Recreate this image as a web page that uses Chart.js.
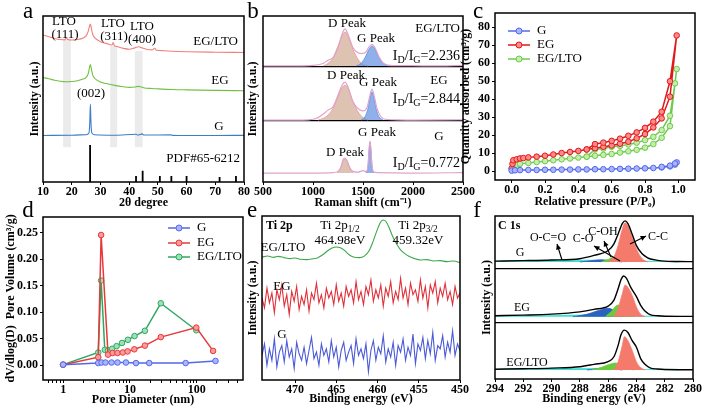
<!DOCTYPE html>
<html lang="en">
<head>
<meta charset="UTF-8">
<title>EG / LTO characterisation</title>
<script src="https://cdn.jsdelivr.net/npm/chart.js"></script>
<style>
  body { margin: 0; background: #fff; }
  #wrap { position: relative; width: 704px; height: 407px; }
  #wrap canvas { position: absolute; left: 0; top: 0; }
</style>
</head>
<body>
<div id="wrap">
  <canvas id="pa" width="704" height="407"></canvas>
  <canvas id="pb" width="704" height="407"></canvas>
  <canvas id="pc" width="704" height="407"></canvas>
  <canvas id="pd" width="704" height="407"></canvas>
  <canvas id="pe" width="704" height="407"></canvas>
  <canvas id="pf" width="704" height="407"></canvas>
</div>
<script>
// ---------------- (a) XRD ----------------
const xrdTicks = [10, 20, 30, 40, 50, 60, 70, 80];
const xrdLTO_x = [10, 12, 14, 16, 17.5, 18.2, 18.6, 20, 22, 24, 25, 25.8, 26.2, 26.5, 26.8, 27.3, 28, 30, 32, 34, 34.4, 34.8, 36, 38, 40, 42, 43.3, 44.5, 46, 48, 48.9, 49.5, 52, 55, 60, 70, 80];
const xrdLTO_y = [10.6, 9.5, 8.5, 7.8, 7.6, 8.8, 7.8, 7.5, 7.8, 8.8, 10, 13, 16, 17.2, 15, 11, 9, 6.5, 5.5, 4.5, 6, 4.3, 3.5, 2.5, 2, 2.8, 3.5, 2.8, 2, 1.6, 2.6, 1.4, 1.1, 0.8, 0.5, 0.2, 0];
const xrdEG_x = [10, 12, 14, 16, 18, 20, 22, 24, 25, 25.8, 26.2, 26.5, 26.8, 27.3, 28, 30, 32, 35, 38, 40, 42, 43, 44, 45, 48, 50, 55, 60, 70, 80];
const xrdEG_y = [8, 7.2, 6.3, 5.7, 5.4, 5.5, 6, 7, 8, 10.5, 14, 15.7, 13.5, 9.5, 7.5, 5.2, 4.3, 3.2, 2.4, 2, 2.2, 2.6, 2.4, 1.8, 1.3, 1.1, 0.7, 0.5, 0.2, 0];
const xrdG_x = [10, 20, 25, 26, 26.3, 26.5, 26.7, 27, 28, 35, 42.4, 43, 44.5, 45, 54.6, 55, 60, 70, 80];
const xrdG_y = [0, 0.2, 0.5, 1.5, 8, 19, 8, 1.5, 0.5, 0.2, 0.8, 0.3, 1, 0.3, 0.4, 0.1, 0, 0, 0.1];
const pdfPos = [26.4, 42.4, 44.7, 50.7, 54.7, 60.0, 71.5, 77.2];
const pdfHeight = [22.3, 3.6, 6.8, 3.6, 3.6, 3.6, 3.0, 3.6];
const ltoBands = [[17, 19.7, 86], [33.4, 35.8, 82], [42, 44.7, 79]];

// ---------------- (b) Raman ----------------
const ramanTicks = [500, 1000, 1500, 2000, 2500];
const ramLTO_x = [500, 800, 1000, 1100, 1150, 1200, 1250, 1290, 1320, 1350, 1400, 1450, 1490, 1530, 1560, 1590, 1620, 1660, 1700, 1750, 1800, 2000, 2200, 2500];
const ramLTO_y = [0, 0, 0.3, 1.5, 3.5, 5, 11, 19, 22.3, 19, 11, 8, 7.5, 8.5, 11.5, 13, 11, 5.5, 2, 0.5, 0.2, 0.2, 0, 0.3];
const ramLTO_Dx = [1100, 1150, 1200, 1250, 1290, 1320, 1350, 1400, 1450, 1500, 1550];
const ramLTO_Dy = [0, 1.5, 5, 12, 18, 20.5, 18, 10, 4, 1, 0];
const ramLTO_Gx = [1430, 1480, 1520, 1560, 1590, 1620, 1660, 1700, 1750];
const ramLTO_Gy = [0, 1.5, 5, 10, 12, 10, 5, 1.5, 0];
const ramEG_x = [500, 900, 1000, 1050, 1100, 1150, 1200, 1250, 1290, 1320, 1350, 1400, 1450, 1500, 1540, 1570, 1590, 1610, 1640, 1680, 1720, 1800, 2000, 2500];
const ramEG_y = [0, 0, 0.5, 1.5, 3.5, 6, 8, 15, 21, 22.9, 20, 11, 7, 5.5, 7.5, 15, 18.7, 15, 7, 2, 0.5, 0.2, 0, 0.2];
const ramEG_Dx = [1050, 1100, 1150, 1200, 1250, 1290, 1320, 1350, 1400, 1450, 1500, 1550];
const ramEG_Dy = [0, 1, 3, 7, 14, 19.5, 21, 19, 11, 5, 1.5, 0];
const ramEG_Gx = [1480, 1520, 1550, 1570, 1590, 1610, 1630, 1660, 1700];
const ramEG_Gy = [0, 2, 7, 13, 17, 13, 7, 2, 0];
const ramG_x = [500, 1000, 1200, 1250, 1280, 1300, 1320, 1340, 1370, 1400, 1450, 1500, 1530, 1550, 1560, 1570, 1580, 1590, 1610, 1650, 2000, 2500];
const ramG_y = [0, 0, 0.3, 1, 3.5, 8, 9, 7.5, 3, 1, 0.5, 1.5, 0.8, 4.5, 13.5, 19.3, 13.5, 4.5, 0.5, 0.3, 0, 0.3];
const ramG_Dx = [1240, 1270, 1300, 1320, 1340, 1370, 1400];
const ramG_Dy = [0, 2.5, 7, 8.5, 7, 2.5, 0];
const ramG_Gx = [1530, 1550, 1560, 1570, 1580, 1590, 1610];
const ramG_Gy = [0, 4, 13, 18.5, 13, 4, 0];
const ramanRatio = ['2.236', '2.844', '0.772'];

// ---------------- (c) N2 isotherms ----------------
const isoTicksX = [0, 0.2, 0.4, 0.6, 0.8, 1.0];
const isoTicksY = [0, 10, 20, 30, 40, 50, 60, 70, 80];
const isoG_x = [0.0, 0.02, 0.05, 0.1, 0.15, 0.2, 0.25, 0.3, 0.35, 0.4, 0.45, 0.5, 0.55, 0.6, 0.65, 0.7, 0.75, 0.8, 0.85, 0.9, 0.95, 0.98, 0.99, 0.98, 0.95, 0.9];
const isoG_y = [0.2, 0.4, 0.5, 0.6, 0.6, 0.7, 0.7, 0.8, 0.8, 0.9, 0.9, 1.0, 1.0, 1.1, 1.2, 1.3, 1.4, 1.5, 1.7, 2.0, 2.6, 3.6, 4.8, 4.2, 3.0, 2.3];
const isoEG_x = [0.0, 0.005, 0.01, 0.03, 0.05, 0.07, 0.1, 0.15, 0.2, 0.25, 0.3, 0.35, 0.4, 0.45, 0.5, 0.55, 0.6, 0.65, 0.7, 0.75, 0.8, 0.85, 0.9, 0.95, 0.99,
                 0.95, 0.9, 0.85, 0.8, 0.75, 0.7, 0.65, 0.6, 0.55, 0.5, 0.45];
const isoEG_y = [1.5, 4, 6, 6.5, 7, 7.2, 7.6, 8, 8.5, 9.2, 10, 10.6, 11.2, 12, 12.7, 13.5, 14.2, 15.2, 16.3, 18.2, 20.6, 24.3, 29.3, 41.4, 75.5,
                 50, 33, 27.5, 24, 21.5, 19.6, 18, 16.8, 15.8, 15, 12];
const isoLTO_x = [0.0, 0.01, 0.03, 0.05, 0.1, 0.15, 0.2, 0.25, 0.3, 0.35, 0.4, 0.45, 0.5, 0.55, 0.6, 0.65, 0.7, 0.75, 0.8, 0.85, 0.9, 0.95, 0.99,
                  0.98, 0.95, 0.9, 0.85, 0.8, 0.75, 0.7, 0.65, 0.6, 0.55, 0.5, 0.45];
const isoLTO_y = [1, 3.2, 3.6, 4, 4.5, 5, 5.5, 6, 6.5, 7, 7.5, 8, 8.5, 9, 9.5, 10.3, 11, 11.8, 13, 15, 18.5, 25, 56.8,
                  48.8, 30.8, 22.8, 19, 17.2, 15.8, 14.8, 14, 13.5, 12.5, 12, 8];

// ---------------- (d) pore size distribution ----------------
const poreTicksX = [0.6, 0.7, 0.8, 0.9, 1, 2, 3, 4, 5, 6, 7, 8, 9, 10, 20, 30, 40, 50, 60, 70, 80, 90, 100, 200, 300, 400];
const poreLabels = [1, 10, 100];
const poreTicksY = [0, 0.05, 0.1, 0.15, 0.2, 0.25];
const poreG_x = [1, 3.35, 3.75, 4.3, 5.3, 6.5, 8.7, 12.3, 19.4, 68, 190];
const poreG_y = [0.001, 0.004, 0.005, 0.005, 0.005, 0.005, 0.005, 0.004, 0.004, 0.004, 0.008];
const poreEG_x = [1, 3.35, 3.7, 4.7, 5.5, 6.5, 7.8, 9.2, 11.6, 16.7, 28.9, 98, 175];
const poreEG_y = [0.001, 0.015, 0.246, 0.02, 0.023, 0.023, 0.024, 0.026, 0.03, 0.037, 0.053, 0.071, 0.027];
const poreLTO_x = [1, 3.35, 3.7, 4.2, 4.7, 5.4, 6.3, 7.6, 9.3, 11.7, 16.7, 28.9, 98];
const poreLTO_y = [0.001, 0.024, 0.16, 0.029, 0.028, 0.031, 0.036, 0.042, 0.048, 0.055, 0.065, 0.117, 0.066];

// ---------------- (e) XPS Ti 2p ----------------
const tiTicks = [470, 465, 460, 455, 450];
const tiLTO_x = [474, 473.3, 472.6, 472, 471.3, 470.6, 470, 469.3, 468.6, 468, 467.3, 466.6, 466, 465.5, 465, 464.5, 464, 463.4, 462.8, 462.2, 461.6, 461, 460.5, 460, 459.6, 459.3, 459, 458.6, 458.2, 457.8, 457.3, 456.8, 456.2, 455.5, 454.8, 454, 453.2, 452.4, 451.6, 450.8, 450];
const tiLTO_y = [75, 75.6, 74.8, 75.4, 74.6, 74, 74.4, 73.6, 73.4, 73.8, 74.4, 76.5, 79, 80.5, 81.1, 80.6, 79, 76.2, 74.8, 74.6, 75.5, 79, 85, 92, 96.5, 97.6, 96.8, 93, 88, 84, 80, 77.5, 75.5, 74, 73.2, 73.4, 72.6, 72.8, 72.2, 72.6, 71.6];
const tiEG_y = [50, 44, 56, 47, 53, 41, 55, 49, 58, 45, 52, 40, 54, 48, 57, 43, 51, 46, 55, 42, 53, 49, 59, 47, 52, 44, 56, 50, 54, 46, 58, 48, 53, 45, 57, 51, 55, 47, 60, 49, 54, 46, 57, 52, 61, 48, 55, 50, 58, 45, 56, 51, 60, 47, 54, 49, 62, 50, 56, 46, 59, 52, 55, 48, 61, 50, 57, 44, 58, 53, 60, 47, 56, 51, 59, 49, 54, 46, 57, 50, 53];
const tiG_y = [15, 22, 9, 19, 12, 25, 8, 17, 21, 11, 24, 14, 19, 7, 23, 16, 12, 20, 10, 18, 26, 13, 17, 9, 22, 15, 19, 11, 24, 14, 20, 8, 18, 23, 12, 17, 21, 10, 25, 15, 19, 13, 22, 5, 18, 24, 12, 20, 16, 27, 11, 19, 14, 23, 9, 21, 17, 25, 12, 20, 15, 28, 10, 22, 18, 26, 13, 24, 16, 29, 12, 21, 19, 27, 14, 23, 17, 30, 15, 22, 18];

// ---------------- (f) XPS C 1s ----------------
const cTicks = [294, 292, 290, 288, 286, 284, 282, 280];
const c1s = [
  { // G
    env_x: [294, 292, 290, 288, 287, 286, 285.6, 285.3, 285, 284.8, 284.6, 284.3, 284, 283.6, 283.2, 283, 282.5, 282, 281, 280],
    env_y: [0.5, 0.8, 1.2, 2, 4, 7, 11, 17, 23.5, 25.2, 23.5, 17, 10, 5, 2.5, 1.8, 1, 0.5, 0.3, 0.2],
    cc_x: [286, 285.6, 285.3, 285.0, 284.8, 284.6, 284.3, 284.0, 283.6, 283.2],
    cc_y: [0, 3, 10, 20, 24, 22, 15, 8, 2, 0],
    coh_x: [286.5, 286, 285.6, 285.2, 284.8], coh_y: [0, 1.5, 3, 1.5, 0],
    co_x: [288, 287.2, 286.5, 285.8, 285], co_y: [0, 0.8, 1.3, 0.8, 0],
    oco_x: [294, 292, 290, 288, 286, 284, 282, 281], oco_y: [0.3, 0.6, 0.9, 1.1, 1.0, 0.6, 0.2, 0]
  },
  { // EG
    env_x: [294, 292, 290, 288, 287, 286, 285.6, 285.3, 285.1, 284.9, 284.7, 284.4, 284, 283.7, 283.4, 283, 282.5, 282, 280],
    env_y: [0.6, 1, 1.6, 3, 4.5, 6.5, 10, 17, 22.5, 25, 23.5, 18, 12.3, 7, 3.5, 1.2, 0.6, 0.3, 0.2],
    cc_x: [285.6, 285.3, 285.0, 284.8, 284.6, 284.3, 284.0, 283.7, 283.4],
    cc_y: [0, 5, 14, 19.4, 18, 13, 6, 1.5, 0],
    coh_x: [286.2, 285.8, 285.3, 284.9, 284.5, 284.2], coh_y: [0, 3, 7.2, 4, 1, 0],
    co_x: [288.5, 287.5, 286.8, 286, 285.4, 284.8], co_y: [0, 1.5, 3.5, 5.2, 3, 0],
    oco_x: [294, 292, 290, 288, 286, 284, 282, 281], oco_y: [0.3, 0.5, 0.8, 1.0, 1.0, 0.5, 0.2, 0]
  },
  { // EG/LTO
    env_x: [294, 292, 290, 288, 287, 286, 285.6, 285.3, 285.1, 284.85, 284.6, 284.3, 284, 283.7, 283.4, 283, 282.5, 282, 280],
    env_y: [0.5, 0.8, 1.2, 2, 3.5, 5.2, 8, 15, 21.5, 24.5, 23, 18, 14, 7, 3.5, 1.2, 0.6, 0.3, 0.2],
    cc_x: [285.6, 285.3, 285.0, 284.85, 284.6, 284.3, 284.0, 283.7, 283.4],
    cc_y: [0, 5, 15, 20.4, 18, 12, 5, 1.5, 0],
    coh_x: [287.2, 286.5, 285.9, 285.5, 285, 284.6, 284.2], coh_y: [0, 1.5, 3.5, 4.3, 3, 1.2, 0],
    co_x: [287.5, 286.8, 286.2, 285.6, 285], co_y: [0, 0.8, 1.4, 0.8, 0],
    oco_x: [294, 292, 290, 288, 286, 284, 282, 281], oco_y: [0.3, 0.5, 0.8, 0.9, 0.8, 0.4, 0.2, 0]
  }
];

// ---------------- helpers ----------------
const W = 704, H = 407;
const SERIF = '"Liberation Serif", "Times New Roman", serif';
const TICK_FONT = { family: SERIF, size: 12, weight: 'bold' };
const TITLE_FONT = { family: SERIF, size: 12, weight: 'bold' };

const pts = (xs, ys, off = 0) => xs.map((x, i) => ({ x: x, y: ys[i] + off }));

function drawText(ctx, t) {
  const size = t.size || 13, weight = t.bold ? 'bold ' : '';
  const parts = t.text.split(/(_\{[^}]*\})/).filter(Boolean)
    .map(p => p.startsWith('_{') ? { s: p.slice(2, -1), sub: true } : { s: p, sub: false });
  let w = 0;
  parts.forEach(p => {
    ctx.font = weight + (p.sub ? size * 0.72 : size) + 'px ' + SERIF;
    p.w = ctx.measureText(p.s).width; w += p.w;
  });
  let x = t.align === 'right' ? t.x - w : t.align === 'left' ? t.x : t.x - w / 2;
  ctx.fillStyle = t.color || '#000';
  ctx.textAlign = 'left';
  ctx.textBaseline = t.base ? 'alphabetic' : 'middle';
  parts.forEach(p => {
    ctx.font = weight + (p.sub ? size * 0.72 : size) + 'px ' + SERIF;
    ctx.fillText(p.s, x, t.y + (p.sub ? size * 0.3 : 0));
    x += p.w;
  });
}

function drawArrow(ctx, a) {
  const [x0, y0, x1, y1] = a;
  ctx.strokeStyle = '#000'; ctx.fillStyle = '#000'; ctx.lineWidth = 1.1;
  ctx.beginPath(); ctx.moveTo(x0, y0); ctx.lineTo(x1, y1); ctx.stroke();
  const ang = Math.atan2(y1 - y0, x1 - x0), L = 6;
  ctx.beginPath(); ctx.moveTo(x1, y1);
  ctx.lineTo(x1 - L * Math.cos(ang - 0.45), y1 - L * Math.sin(ang - 0.45));
  ctx.lineTo(x1 - L * Math.cos(ang + 0.45), y1 - L * Math.sin(ang + 0.45));
  ctx.closePath(); ctx.fill();
}

// per-chart decoration: frame, shaded bands, labels, arrows, legend
function deco(d) {
  return {
    id: 'deco',
    beforeDatasetsDraw(chart) {
      if (!d.bands) return;
      const { ctx, scales: { x, y } } = chart;
      ctx.save();
      ctx.fillStyle = 'rgba(222,222,222,0.6)';
      d.bands.forEach(b => {
        const px0 = x.getPixelForValue(b[0]), px1 = x.getPixelForValue(b[1]);
        const py0 = y.getPixelForValue(b[2]), py1 = y.getPixelForValue(21);
        ctx.fillRect(px0, py0, px1 - px0, py1 - py0);
      });
      ctx.restore();
    },
    afterDraw(chart) {
      const { ctx, chartArea: a } = chart;
      ctx.save();
      ctx.strokeStyle = '#000'; ctx.lineWidth = 1.5;
      ctx.strokeRect(a.left, a.top, a.right - a.left, a.bottom - a.top);
      (d.arrows || []).forEach(ar => drawArrow(ctx, ar));
      (d.legend || []).forEach(l => {
        ctx.strokeStyle = l.color; ctx.lineWidth = 1.5;
        ctx.beginPath(); ctx.moveTo(l.x1, l.y); ctx.lineTo(l.x2, l.y); ctx.stroke();
        ctx.beginPath(); ctx.arc((l.x1 + l.x2) / 2, l.y, 3, 0, Math.PI * 2);
        ctx.fillStyle = l.fill; ctx.fill(); ctx.lineWidth = 1; ctx.stroke();
        drawText(ctx, { text: l.label, x: l.x2 + 7, y: l.y, align: 'left', size: 13 });
      });
      (d.texts || []).forEach(t => drawText(ctx, t));
      ctx.restore();
    }
  };
}

function xAxis(o) {
  return {
    type: o.type || 'linear', min: o.min, max: o.max, reverse: !!o.reverse,
    afterBuildTicks: s => { s.ticks = o.ticks.map(v => ({ value: v })); },
    ticks: { autoSkip: false, maxRotation: 0, font: TICK_FONT, color: '#000', padding: 0, callback: o.fmt || (v => v) },
    grid: { drawOnChartArea: false, drawTicks: true, tickLength: 3, color: '#000', lineWidth: 1 },
    border: { display: false },
    title: { display: true, text: o.title, font: TITLE_FONT, color: '#000', padding: 0 }
  };
}

function yAxis(o) {
  const labelled = !!o.ticks;
  return {
    type: 'linear', min: o.min, max: o.max,
    afterBuildTicks: s => { s.ticks = (o.ticks || o.dividers || []).map(v => ({ value: v })); },
    ticks: { display: labelled, autoSkip: false, font: TICK_FONT, color: '#000', padding: 2, callback: o.fmt || (v => v) },
    grid: o.dividers
      ? { drawOnChartArea: true, drawTicks: false, color: '#000', lineWidth: 1.2 }
      : { display: labelled, drawOnChartArea: false, tickLength: 3, color: '#000', lineWidth: 1 },
    border: { display: false },
    title: { display: true, text: o.title, font: TITLE_FONT, color: '#000', padding: 0 }
  };
}

// box: plot area + centre of the axis titles, in page pixels
function makeChart(id, box, cfg) {
  const yw = box.l - (box.yTitleX - 7.2);
  const xh = (box.xTitleY + 7.2) - box.b;
  const x = cfg.x, y = cfg.y;
  x.afterFit = s => { s.height = xh; };
  y.afterFit = s => { s.width = yw; };
  return new Chart(document.getElementById(id), {
    type: cfg.type || 'line',
    data: { datasets: cfg.datasets },
    options: {
      responsive: false, animation: false,
      layout: { padding: { left: box.l - yw, top: box.t, right: W - box.r, bottom: H - box.b - xh } },
      plugins: { legend: { display: false }, tooltip: { enabled: false } },
      elements: { point: { radius: 0 }, line: { borderWidth: 1 } },
      scales: { x: x, y: y }
    },
    plugins: [deco(cfg.deco)]
  });
}

const line = (data, color, extra) => Object.assign({ data: data, borderColor: color, borderWidth: 1.1, pointRadius: 0, cubicInterpolationMode: 'monotone', fill: false }, extra || {});
const area = (data, color, edge, base) => ({ data: data, borderColor: edge, borderWidth: 0.8, backgroundColor: color, pointRadius: 0, cubicInterpolationMode: 'monotone', fill: { value: base } });

// ---------------- (a) ----------------
const sticks = pdfPos.flatMap((p, i) => [{ x: p, y: 0 }, { x: p, y: pdfHeight[i] }, { x: p, y: null }]);
makeChart('pa', { l: 43, t: 16, r: 244, b: 182, yTitleX: 35, xTitleY: 203 }, {
  datasets: [
    line(pts(xrdLTO_x, xrdLTO_y, 78), '#f08078'),
    line(pts(xrdEG_x, xrdEG_y, 55), '#74c043'),
    line(pts(xrdG_x, xrdG_y, 28), '#3d7cc9'),
    { data: sticks, borderColor: '#000', borderWidth: 1.8, pointRadius: 0, spanGaps: false }
  ],
  x: xAxis({ min: 10, max: 80, ticks: xrdTicks, title: '2θ degree' }),
  y: yAxis({ min: 0, max: 100, title: 'Intensity (a.u.)' }),
  deco: {
    bands: ltoBands,
    texts: [
      { text: 'a', x: 28, y: 18, base: true, size: 23 },
      { text: 'LTO', x: 64, y: 22 }, { text: '(111)', x: 65, y: 35 },
      { text: 'LTO', x: 113, y: 24 }, { text: '(311)', x: 114, y: 37 },
      { text: 'LTO', x: 142, y: 27 }, { text: '(400)', x: 142, y: 40 },
      { text: 'EG/LTO', x: 238, y: 42, align: 'right' },
      { text: 'EG', x: 220, y: 81 },
      { text: 'G', x: 219, y: 127 },
      { text: '(002)', x: 91, y: 94 },
      { text: 'PDF#65-6212', x: 240, y: 159, align: 'right' }
    ]
  }
});

// ---------------- (b) ----------------
const ramSets = [
  [ramLTO_x, ramLTO_y, ramLTO_Dx, ramLTO_Dy, ramLTO_Gx, ramLTO_Gy, 69.9],
  [ramEG_x, ramEG_y, ramEG_Dx, ramEG_Dy, ramEG_Gx, ramEG_Gy, 37.3],
  [ramG_x, ramG_y, ramG_Dx, ramG_Dy, ramG_Gx, ramG_Gy, 5.4]
];
const ramDatasets = [];
ramSets.forEach(s => {
  ramDatasets.push(line(pts(s[0], s[1], s[6]), '#e2a2cc', { borderWidth: 1.2 }));
  ramDatasets.push(area(pts(s[4], s[5], s[6]), 'rgba(100,145,225,0.72)', '#5d8de0', s[6]));
  ramDatasets.push(area(pts(s[2], s[3], s[6]), 'rgba(210,170,145,0.7)', '#e89595', s[6]));
});
makeChart('pb', { l: 263, t: 16, r: 463, b: 182, yTitleX: 253, xTitleY: 203 }, {
  datasets: ramDatasets,
  x: xAxis({ min: 500, max: 2500, ticks: ramanTicks, title: 'Raman shift (cm⁻¹)' }),
  y: yAxis({ min: 0, max: 100, dividers: [36.7, 69.3], title: 'Intensity (a.u.)' }),
  deco: {
    texts: [
      { text: 'b', x: 253, y: 18, base: true, size: 23 },
      { text: 'D Peak', x: 347, y: 24 }, { text: 'G Peak', x: 376, y: 39 },
      { text: 'EG/LTO', x: 460, y: 29, align: 'right' },
      { text: 'I_{D}/I_{G}=' + ramanRatio[0], x: 460, y: 56, align: 'right', size: 14 },
      { text: 'D Peak', x: 346, y: 76 }, { text: 'G Peak', x: 378, y: 83 },
      { text: 'EG', x: 439, y: 81 },
      { text: 'I_{D}/I_{G}=' + ramanRatio[1], x: 460, y: 99, align: 'right', size: 14 },
      { text: 'G Peak', x: 377, y: 133 }, { text: 'D Peak', x: 345, y: 153 },
      { text: 'G', x: 439, y: 137 },
      { text: 'I_{D}/I_{G}=' + ramanRatio[2], x: 460, y: 163, align: 'right', size: 14 }
    ]
  }
});

// ---------------- (c) ----------------
const cCol = { G: ['#5468e8', '#a9b5ff'], EG: ['#e01818', '#ff8a8a'], LTO: ['#70c850', '#c2f0a8'] };
const marker = (c) => ({ showLine: true, borderColor: c[0], borderWidth: 1.5, pointRadius: 2.8, pointBorderWidth: 1, pointBorderColor: c[0], pointBackgroundColor: c[1] });
makeChart('pc', { l: 495, t: 13, r: 695, b: 180, yTitleX: 466, xTitleY: 202 }, {
  type: 'scatter',
  datasets: [
    Object.assign({ data: pts(isoG_x, isoG_y) }, marker(cCol.G)),
    Object.assign({ data: pts(isoEG_x, isoEG_y) }, marker(cCol.EG)),
    Object.assign({ data: pts(isoLTO_x, isoLTO_y) }, marker(cCol.LTO))
  ],
  x: xAxis({ min: -0.1, max: 1.1, ticks: isoTicksX, fmt: v => v.toFixed(1), title: 'Relative pressure (P/P₀)' }),
  y: yAxis({ min: -5, max: 88, ticks: isoTicksY, title: 'Quantity adsorbed (cm³/g)' }),
  deco: {
    legend: [
      { label: 'G', x1: 508, x2: 530, y: 31, color: cCol.G[0], fill: cCol.G[1] },
      { label: 'EG', x1: 508, x2: 530, y: 45, color: cCol.EG[0], fill: cCol.EG[1] },
      { label: 'EG/LTO', x1: 508, x2: 530, y: 59, color: cCol.LTO[0], fill: cCol.LTO[1] }
    ],
    texts: [{ text: 'c', x: 478, y: 18, base: true, size: 23 }]
  }
});

// ---------------- (d) ----------------
const dCol = { G: ['#5468e8', '#a9b5ff'], EG: ['#e63a3a', '#ff9a9a'], LTO: ['#2ea860', '#9ee0b8'] };
makeChart('pd', { l: 43, t: 217, r: 243, b: 380, yTitleX: 11, xTitleY: 400 }, {
  type: 'scatter',
  datasets: [
    Object.assign({ data: pts(poreG_x, poreG_y) }, marker(dCol.G)),
    Object.assign({ data: pts(poreEG_x, poreEG_y) }, marker(dCol.EG)),
    Object.assign({ data: pts(poreLTO_x, poreLTO_y) }, marker(dCol.LTO))
  ],
  x: xAxis({ type: 'logarithmic', min: 0.5, max: 490, ticks: poreTicksX, fmt: v => poreLabels.includes(v) ? String(v) : '', title: 'Pore Diameter (nm)' }),
  y: yAxis({ min: -0.028, max: 0.28, ticks: poreTicksY, fmt: v => v.toFixed(2), title: 'dV/dlog(D)  Pore Volume (cm³/g)' }),
  deco: {
    legend: [
      { label: 'G', x1: 168, x2: 190, y: 228, color: dCol.G[0], fill: dCol.G[1] },
      { label: 'EG', x1: 168, x2: 190, y: 243, color: dCol.EG[0], fill: dCol.EG[1] },
      { label: 'EG/LTO', x1: 168, x2: 190, y: 257, color: dCol.LTO[0], fill: dCol.LTO[1] }
    ],
    texts: [{ text: 'd', x: 28, y: 217, base: true, size: 23 }]
  }
});

// ---------------- (e) ----------------
const tiGrid = tiEG_y.map((_, i) => 474 - i * 0.3);
makeChart('pe', { l: 262, t: 216, r: 460, b: 380, yTitleX: 253, xTitleY: 399 }, {
  datasets: [
    line(pts(tiLTO_x, tiLTO_y), '#3aa84a'),
    line(pts(tiGrid, tiEG_y), '#e0303a', { cubicInterpolationMode: 'default' }),
    line(pts(tiGrid, tiG_y), '#4a5ad8', { cubicInterpolationMode: 'default' })
  ],
  x: xAxis({ min: 450, max: 474, reverse: true, ticks: tiTicks, title: 'Binding energy (eV)' }),
  y: yAxis({ min: 0, max: 100, title: 'Intensity (a.u.)' }),
  deco: {
    texts: [
      { text: 'e', x: 252, y: 217, base: true, size: 23 },
      { text: 'Ti 2p', x: 266, y: 226, align: 'left', bold: true, size: 12 },
      { text: 'Ti 2p_{1/2}', x: 340, y: 226 }, { text: '464.98eV', x: 340, y: 241 },
      { text: 'Ti 2p_{3/2}', x: 418, y: 226 }, { text: '459.32eV', x: 418, y: 241 },
      { text: 'EG/LTO', x: 283, y: 248 },
      { text: 'EG', x: 282, y: 287 },
      { text: 'G', x: 282, y: 335 }
    ]
  }
});

// ---------------- (f) ----------------
const fOffsets = [71.8, 38.2, 5.5];
const fDatasets = [];
c1s.forEach((s, k) => {
  const b = fOffsets[k];
  fDatasets.push(line(pts(s.env_x, s.env_y, b), '#000', { borderWidth: 1.4 }));
  fDatasets.push(area(pts(s.cc_x, s.cc_y, b), '#f47a6c', '#f47a6c', b));
  fDatasets.push(area(pts(s.coh_x, s.coh_y, b), '#6acc3c', '#6acc3c', b));
  fDatasets.push(area(pts(s.co_x, s.co_y, b), '#2a62c0', '#2a62c0', b));
  fDatasets.push(area(pts(s.oco_x, s.oco_y, b), '#3ee0d0', '#3ee0d0', b));
});
makeChart('pf', { l: 495, t: 216, r: 693, b: 379, yTitleX: 487, xTitleY: 399 }, {
  datasets: fDatasets,
  x: xAxis({ min: 280, max: 294, reverse: true, ticks: cTicks, title: 'Binding energy (eV)' }),
  y: yAxis({ min: 0, max: 100, dividers: [34.4, 67.5], title: 'Intensity (a.u.)' }),
  deco: {
    arrows: [[562, 260, 557, 244], [620, 261, 594, 246], [611, 257, 604, 241], [630, 244, 646, 236]],
    texts: [
      { text: 'f', x: 477, y: 217, base: true, size: 23 },
      { text: 'C 1s', x: 498, y: 226, align: 'left', bold: true, size: 12 },
      { text: 'O-C=O', x: 548, y: 238, size: 12 },
      { text: 'C-O', x: 583, y: 239, size: 12 },
      { text: 'C-OH', x: 603, y: 232, size: 12 },
      { text: 'C-C', x: 648, y: 237, align: 'left', size: 12 },
      { text: 'G', x: 520, y: 253, size: 12 },
      { text: 'EG', x: 522, y: 308, size: 12 },
      { text: 'EG/LTO', x: 527, y: 363, size: 12 }
    ]
  }
});
</script>
</body>
</html>
